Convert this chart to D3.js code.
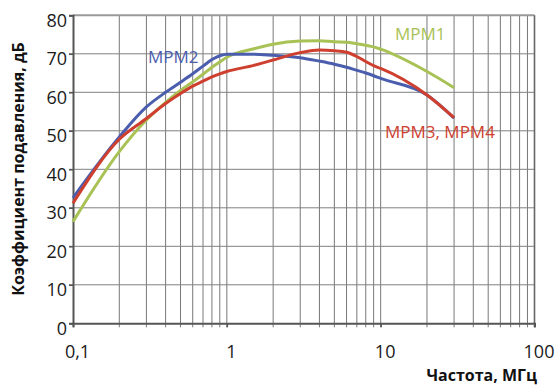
<!DOCTYPE html>
<html>
<head>
<meta charset="utf-8">
<script src="https://cdn.jsdelivr.net/npm/d3@7"></script>
<style>
  body { margin: 0; background: #fff; }
  text { font-family: "Open Sans", sans-serif; }
</style>
</head>
<body>
<div id="chart"></div>
<script>
// frequencies, MHz (log axis)
var freq = [0.1, 0.2, 0.3, 0.4, 0.5, 0.6, 0.7, 0.8, 0.9, 1, 1.5, 2, 3, 4, 5, 6, 7, 8, 9, 10, 20, 30];

// suppression ratio, dB
var mpm1 = [26.4, 44.6, 52.8, 57.4, 60.5, 62.7, 64.7, 66.5, 67.9, 69.1, 71.3, 72.5, 73.3, 73.4, 73.1, 73.0, 72.6, 72.2, 71.8, 71.2, 65.4, 61.2];
var mpm2 = [32.6, 48.4, 56.2, 60.0, 62.6, 64.8, 66.8, 68.5, 69.5, 69.9, 69.9, 69.6, 69.0, 68.1, 67.3, 66.5, 65.7, 65.0, 64.3, 63.6, 59.3, 53.3];
var mpm34 = [31.2, 47.8, 53.2, 57.1, 59.7, 61.6, 62.9, 64.0, 64.8, 65.4, 67.0, 68.4, 70.3, 71.0, 70.8, 70.4, 69.3, 68.0, 66.9, 66.2, 59.3, 53.4];

var seriesNames = ["MPM1", "MPM2", "MPM3, MPM4"];
var seriesColors = ["#a8c256", "#4b5eae", "#cf3f2f"];

var xTicks = [0.1, 1, 10, 100];
var xTickLabels = ["0,1", "1", "10", "100"];
var yTicks = [0, 10, 20, 30, 40, 50, 60, 70, 80];

var svgWidth = 555, svgHeight = 387;
var margin = {top: 15.3, right: 20.5, bottom: 63.7, left: 73};
var width = svgWidth - margin.left - margin.right;
var height = svgHeight - margin.top - margin.bottom;

var svg = d3.select("#chart").append("svg")
    .attr("width", svgWidth)
    .attr("height", svgHeight);

var g = svg.append("g")
    .attr("transform", `translate(${margin.left}, ${margin.top})`);

var x = d3.scaleLog().domain([0.1, 100]).range([0, width]);
var y = d3.scaleLinear().domain([0, 80]).range([height, 0]);

// minor grid values 0.2..0.9, 2..9, 20..90
var gridX = [];
[0.1, 1, 10].forEach(function(d) {
    for (var k = 2; k <= 9; k++) gridX.push(+(d * k).toFixed(2));
});
gridX.push(1, 10);

// vertical grid
g.append("g").selectAll("line")
    .data(gridX)
    .enter().append("line")
    .attr("x1", d => x(d)).attr("x2", d => x(d))
    .attr("y1", 0).attr("y2", height + 4)
    .attr("stroke", "#787878")
    .attr("stroke-width", 1);

// horizontal grid
g.append("g").selectAll("line")
    .data(yTicks.slice(1, -1))
    .enter().append("line")
    .attr("x1", -4).attr("x2", width)
    .attr("y1", d => y(d)).attr("y2", d => y(d))
    .attr("stroke", "#808080")
    .attr("stroke-width", 1);

// frame
g.append("line").attr("x1", 0).attr("x2", width).attr("y1", 0).attr("y2", 0)
    .attr("stroke", "#9a9a9a").attr("stroke-width", 2);
g.append("line").attr("x1", width).attr("x2", width).attr("y1", 0).attr("y2", height + 4)
    .attr("stroke", "#666").attr("stroke-width", 1.6);

// axes
var leftAxis = d3.axisLeft(y).tickValues(yTicks).tickSize(4).tickFormat(d3.format("d"));
var bottomAxis = d3.axisBottom(x).tickValues(xTicks).tickSize(4).tickFormat((d, i) => xTickLabels[i]);

var yAxis = g.append("g").call(leftAxis);
yAxis.select(".domain").attr("stroke", "#555").attr("stroke-width", 2);
yAxis.selectAll(".tick line").attr("stroke", "#555").attr("stroke-width", 1.5);
yAxis.selectAll(".tick text")
    .attr("x", -6).attr("dy", "0.62em")
    .attr("font-size", 18).attr("fill", "#1a1a1a")
    .style("font-family", "Open Sans");

var xAxis = g.append("g")
    .attr("transform", `translate(0, ${height})`)
    .call(bottomAxis);
xAxis.select(".domain").attr("stroke", "#555").attr("stroke-width", 2);
xAxis.selectAll(".tick line").attr("stroke", "#555").attr("stroke-width", 1.5);
xAxis.selectAll(".tick text")
    .attr("x", 4).attr("y", 22).attr("dy", "0.71em")
    .attr("font-size", 18).attr("fill", "#1a1a1a")
    .style("font-family", "Open Sans");

// curves
var allSeries = [mpm1, mpm2, mpm34];
var line = d3.line()
    .x((d, i) => x(freq[i]))
    .y(d => y(d))
    .curve(d3.curveMonotoneX);

// draw green first, red last
[0, 1, 2].forEach(function(s) {
    g.append("path")
        .datum(allSeries[s])
        .attr("d", line)
        .attr("fill", "none")
        .attr("stroke", seriesColors[s])
        .attr("stroke-width", 3)
        .attr("stroke-linejoin", "round");
});

// series labels
var labelPos = [[395, 40], [148, 63], [385, 138]];
seriesNames.forEach(function(n, i) {
    svg.append("text")
        .attr("x", labelPos[i][0]).attr("y", labelPos[i][1])
        .attr("font-size", 17)
        .attr("fill", seriesColors[i])
        .text(n);
});

// axis titles
svg.append("text")
    .attr("x", 537).attr("y", 381)
    .attr("text-anchor", "end")
    .attr("font-size", 16)
    .attr("font-weight", "bold")
    .attr("fill", "#111")
    .text("Частота, МГц");

svg.append("text")
    .attr("transform", "translate(24, 169) rotate(-90)")
    .attr("text-anchor", "middle")
    .attr("font-size", 16)
    .attr("font-weight", "bold")
    .attr("fill", "#111")
    .text("Коэффициент подавления, дБ");
</script>
</body>
</html>
